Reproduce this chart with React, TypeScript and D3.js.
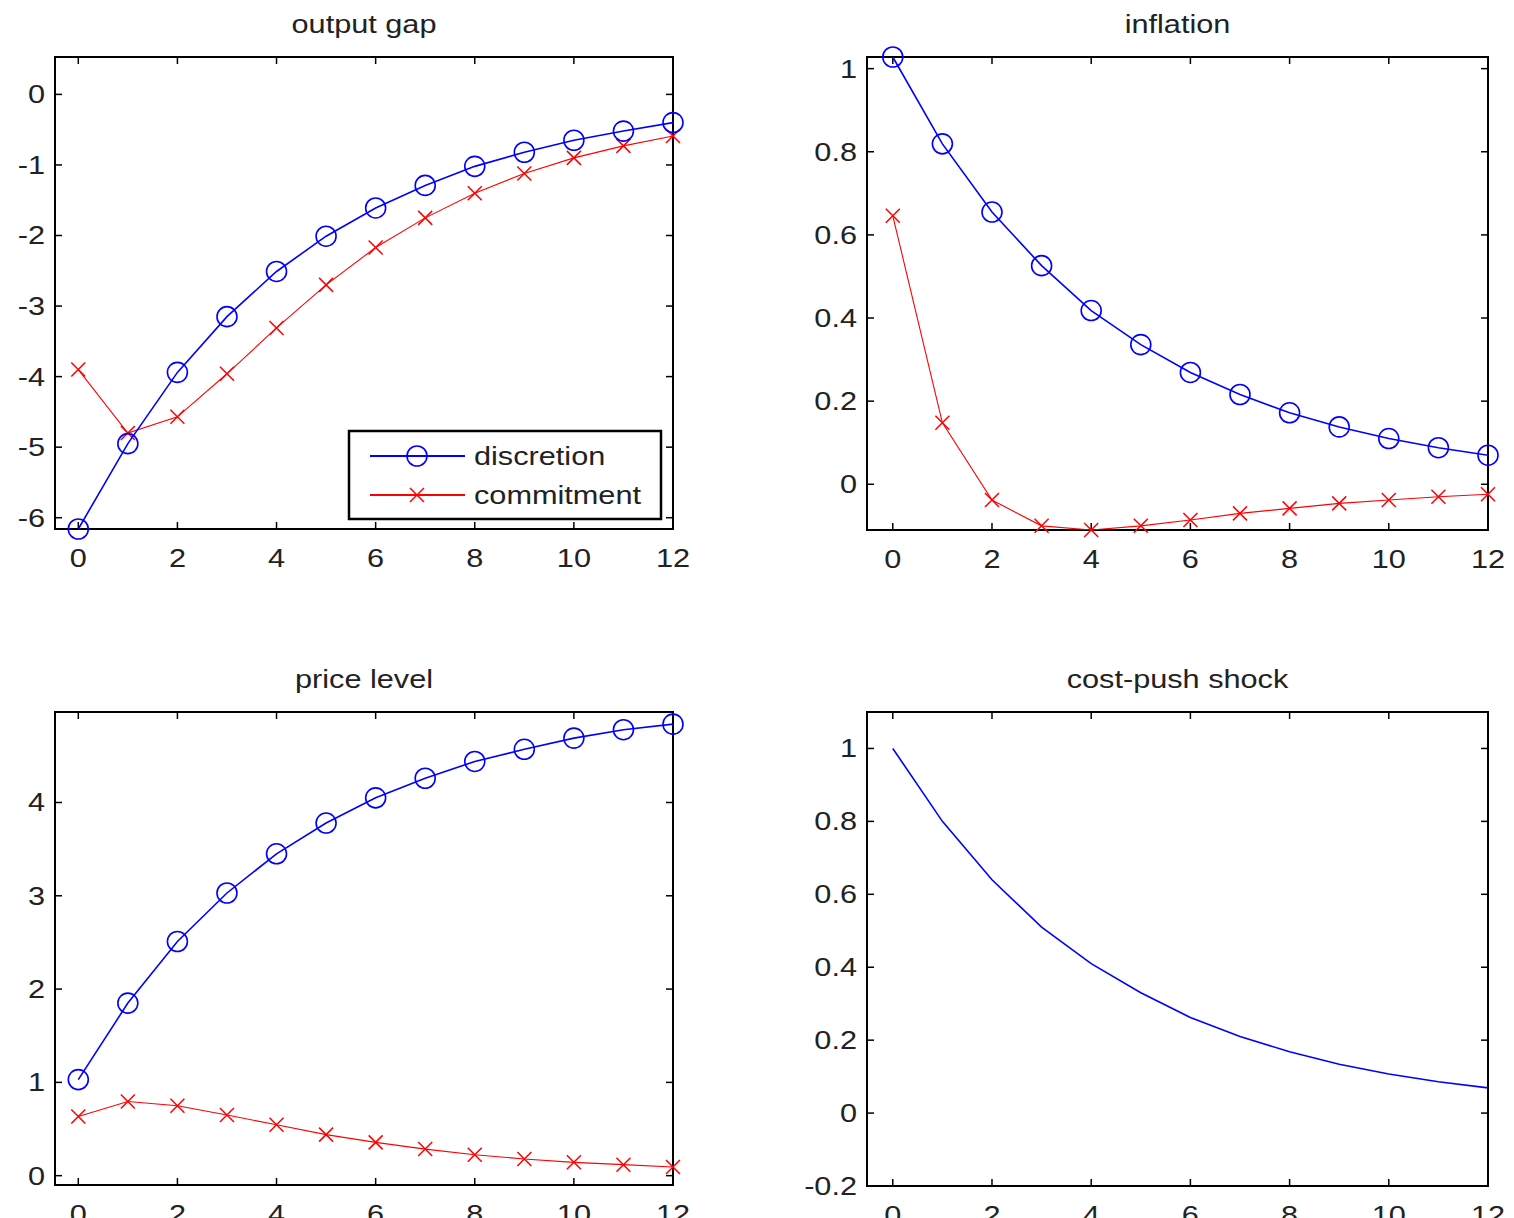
import React, { useEffect, useRef } from 'react';
import * as d3 from 'd3';

// periods 0..12
const periods = [0, 1, 2, 3, 4, 5, 6, 7, 8, 9, 10, 11, 12];

const outputGapDiscretion = [-6.16, -4.95, -3.94, -3.15, -2.51, -2.01, -1.61, -1.29, -1.02, -0.82, -0.65, -0.52, -0.4];
const outputGapCommitment = [-3.9, -4.8, -4.57, -3.96, -3.31, -2.7, -2.17, -1.75, -1.4, -1.12, -0.9, -0.73, -0.59];

const inflationDiscretion = [1.028, 0.819, 0.655, 0.526, 0.418, 0.336, 0.269, 0.216, 0.172, 0.138, 0.11, 0.088, 0.07];
const inflationCommitment = [0.646, 0.148, -0.038, -0.1, -0.11, -0.1, -0.086, -0.07, -0.058, -0.046, -0.038, -0.03, -0.024];

const priceDiscretion = [1.03, 1.85, 2.51, 3.03, 3.45, 3.78, 4.05, 4.26, 4.44, 4.57, 4.69, 4.78, 4.84];
const priceCommitment = [0.635, 0.795, 0.75, 0.65, 0.546, 0.44, 0.357, 0.285, 0.225, 0.178, 0.143, 0.118, 0.093];

const shock = [1.0, 0.8, 0.64, 0.51, 0.41, 0.33, 0.262, 0.21, 0.168, 0.134, 0.107, 0.086, 0.069];

const xTicks = [0, 2, 4, 6, 8, 10, 12];
const gapTicks = [0, -1, -2, -3, -4, -5, -6];
const inflTicks = [0, 0.2, 0.4, 0.6, 0.8, 1];
const priceTicks = [0, 1, 2, 3, 4];
const shockTicks = [-0.2, 0, 0.2, 0.4, 0.6, 0.8, 1];

const FONT = "'Liberation Sans', Arial, Helvetica, sans-serif";
const FS = 26;
const SX = 1.18;
const TXT = '#222';

const panels = [
  { title: 'output gap', box: [55, 57, 673, 529], xMin: -0.47, y: [-6.16, 0.53], ticks: gapTicks, disc: outputGapDiscretion, comm: outputGapCommitment, legend: true },
  { title: 'inflation', box: [867, 57, 1488, 530], xMin: -0.52, y: [-0.11, 1.028], ticks: inflTicks, disc: inflationDiscretion, comm: inflationCommitment },
  { title: 'price level', box: [55, 712, 673, 1185], xMin: -0.47, y: [-0.1, 4.97], ticks: priceTicks, disc: priceDiscretion, comm: priceCommitment },
  { title: 'cost-push shock', box: [867, 712, 1488, 1186], xMin: -0.52, y: [-0.2, 1.1], ticks: shockTicks, shock: shock },
];

const fmt = (t) => d3.format('~g')(t).replace('\u2212', '-');

function addText(g, x, y, str, anchor) {
  g.append('text')
    .attr('transform', `translate(${x},${y}) scale(${SX},1)`)
    .attr('text-anchor', anchor)
    .attr('font-family', FONT)
    .attr('font-size', FS)
    .attr('fill', TXT)
    .text(str);
}

function drawCross(g, cx, cy) {
  const h = 7;
  g.append('path')
    .attr('d', `M${cx - h},${cy - h}L${cx + h},${cy + h}M${cx - h},${cy + h}L${cx + h},${cy - h}`)
    .attr('stroke', '#ff0000')
    .attr('stroke-width', 1.5)
    .attr('fill', 'none');
}

function drawCircle(g, cx, cy) {
  g.append('circle')
    .attr('cx', cx)
    .attr('cy', cy)
    .attr('r', 10)
    .attr('fill', 'none')
    .attr('stroke', '#0000ff')
    .attr('stroke-width', 1.6);
}

function App() {
  const ref = useRef(null);

  useEffect(() => {
    const svg = d3.select(ref.current);
    svg.selectAll('*').remove();

    panels.forEach((p) => {
      const [x0, y0, x1, y1] = p.box;
      const g = svg.append('g');
      const x = d3.scaleLinear().domain([p.xMin, 12]).range([x0, x1]);
      const y = d3.scaleLinear().domain(p.y).range([y1, y0]);

      // title
      addText(g, (x0 + x1) / 2, y0 - 24, p.title, 'middle');

      // ticks inside on all four sides
      const tl = 7;
      xTicks.forEach((t) => {
        const px = x(t);
        g.append('line').attr('x1', px).attr('x2', px).attr('y1', y1).attr('y2', y1 - tl).attr('stroke', '#000').attr('stroke-width', 1.5);
        g.append('line').attr('x1', px).attr('x2', px).attr('y1', y0).attr('y2', y0 + tl).attr('stroke', '#000').attr('stroke-width', 1.5);
        addText(g, px, y1 + 38, String(t), 'middle');
      });
      p.ticks.forEach((t) => {
        const py = y(t);
        g.append('line').attr('x1', x0).attr('x2', x0 + tl).attr('y1', py).attr('y2', py).attr('stroke', '#000').attr('stroke-width', 1.5);
        g.append('line').attr('x1', x1).attr('x2', x1 - tl).attr('y1', py).attr('y2', py).attr('stroke', '#000').attr('stroke-width', 1.5);
        addText(g, x0 - 10, py + 9, fmt(t), 'end');
      });

      // axes box
      g.append('rect')
        .attr('x', x0).attr('y', y0)
        .attr('width', x1 - x0).attr('height', y1 - y0)
        .attr('fill', 'none').attr('stroke', '#000').attr('stroke-width', 2);

      const line = d3.line<number>()
        .x((d, i) => x(periods[i]))
        .y((d) => y(d));

      if (p.shock) {
        g.append('path').attr('d', line(p.shock)).attr('fill', 'none').attr('stroke', '#0000ff').attr('stroke-width', 1.6);
        return;
      }

      g.append('path').attr('d', line(p.comm)).attr('fill', 'none').attr('stroke', '#ff0000').attr('stroke-width', 1.1);
      p.comm.forEach((v, i) => drawCross(g, x(periods[i]), y(v)));

      g.append('path').attr('d', line(p.disc)).attr('fill', 'none').attr('stroke', '#0000ff').attr('stroke-width', 1.6);
      p.disc.forEach((v, i) => drawCircle(g, x(periods[i]), y(v)));

      if (p.legend) {
        const lg = g.append('g');
        lg.append('rect')
          .attr('x', 349).attr('y', 431).attr('width', 312).attr('height', 88)
          .attr('fill', '#fff').attr('stroke', '#000').attr('stroke-width', 2.5);
        lg.append('line').attr('x1', 370).attr('x2', 465).attr('y1', 456).attr('y2', 456).attr('stroke', '#0000ff').attr('stroke-width', 2);
        drawCircle(lg, 417, 456);
        addText(lg, 474, 465, 'discretion', 'start');
        lg.append('line').attr('x1', 370).attr('x2', 465).attr('y1', 495).attr('y2', 495).attr('stroke', '#ff0000').attr('stroke-width', 2);
        drawCross(lg, 417, 495);
        addText(lg, 474, 504, 'commitment', 'start');
      }
    });
  }, []);

  return (
    <svg
      ref={ref}
      width={1514}
      height={1218}
      style={{ position: 'absolute', left: 0, top: 0, background: '#fff' }}
    />
  );
}

export default App;
